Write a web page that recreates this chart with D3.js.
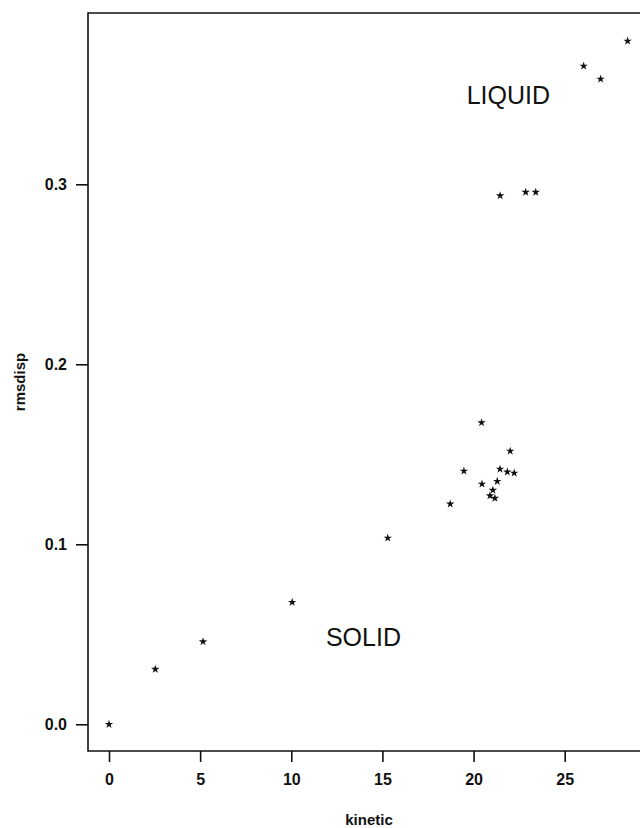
<!DOCTYPE html>
<html>
<head>
<meta charset="utf-8">
<script src="https://cdn.jsdelivr.net/npm/d3@7"></script>
<style>
  html, body { margin: 0; padding: 0; background: #fff; }
  svg { display: block; }
  text { font-family: "Liberation Sans", Arial, sans-serif; fill: #111; }
</style>
</head>
<body>
<svg id="chart" width="640" height="828"></svg>
<script>
// Kinetic energy vs RMS displacement
const kinetic = [0, 2.54, 5.16, 10.05, 15.29, 18.72, 19.47, 20.44, 20.46, 20.9, 21.06, 21.17, 21.3, 21.45, 21.85, 22.01, 22.23, 21.46, 22.86, 23.41, 26.04, 26.97, 28.45];
const rmsdisp = [0, 0.0306, 0.0459, 0.0678, 0.1035, 0.1224, 0.1407, 0.1676, 0.1335, 0.127, 0.1301, 0.1256, 0.135, 0.1418, 0.1402, 0.1518, 0.1396, 0.2937, 0.2956, 0.2956, 0.3657, 0.3585, 0.3796];
const xTicks = [0, 5, 10, 15, 20, 25];
const yTicks = [0.0, 0.1, 0.2, 0.3];
const annotations = [
  { label: "LIQUID", k: 19.62, r: 0.3448 },
  { label: "SOLID", k: 11.9, r: 0.0437 }
];

const svg = d3.select("#chart");
const frameLeft = 88, frameTop = 13, frameBottom = 751, frameRight = 660;
const font = '"Liberation Sans", Arial, sans-serif';

const x = d3.scaleLinear().domain([0, 25]).range([109, 564.7]);
const y = d3.scaleLinear().domain([0, 0.3]).range([724.3, 184.3]);

// frame
svg.append("path")
  .attr("d", `M${frameRight},${frameTop}H${frameLeft}V${frameBottom}H${frameRight}`)
  .attr("fill", "none").attr("stroke", "#111").attr("stroke-width", 1.6);

// x axis
const xAxis = svg.append("g").attr("transform", `translate(0,${frameBottom})`)
  .call(d3.axisBottom(x).tickValues(xTicks).tickFormat(d3.format("d")).tickSize(11).tickPadding(12));
xAxis.select(".domain").remove();
xAxis.selectAll("line").attr("stroke", "#111").attr("stroke-width", 1.6);
xAxis.selectAll("text").attr("font-size", 16).attr("font-weight", "bold")
  .style("font-family", font).attr("fill", "#111");

// y axis
const yAxis = svg.append("g").attr("transform", `translate(${frameLeft},0)`)
  .call(d3.axisLeft(y).tickValues(yTicks).tickFormat(d3.format(".1f")).tickSize(12).tickPadding(9));
yAxis.select(".domain").remove();
yAxis.selectAll("line").attr("stroke", "#111").attr("stroke-width", 1.6);
yAxis.selectAll("text").attr("font-size", 16).attr("font-weight", "bold")
  .style("font-family", font).attr("fill", "#111");

// axis titles
svg.append("text").attr("x", 369).attr("y", 825).attr("text-anchor", "middle")
  .attr("font-size", 15).attr("font-weight", "bold").text("kinetic");
svg.append("text").attr("transform", "translate(25,382) rotate(-90)").attr("text-anchor", "middle")
  .attr("font-size", 15).attr("font-weight", "bold").text("rmsdisp");

// points as small stars
const star = d3.symbol().type(d3.symbolStar).size(22);
svg.append("g").selectAll("path")
  .data(kinetic.map((k, i) => [k, rmsdisp[i]]))
  .join("path")
  .attr("d", star)
  .attr("transform", d => `translate(${x(d[0])},${y(d[1])})`)
  .attr("fill", "#111");

// region labels
svg.append("g").selectAll("text")
  .data(annotations)
  .join("text")
  .attr("x", d => x(d.k)).attr("y", d => y(d.r))
  .attr("font-size", 25)
  .text(d => d.label);
</script>
</body>
</html>
